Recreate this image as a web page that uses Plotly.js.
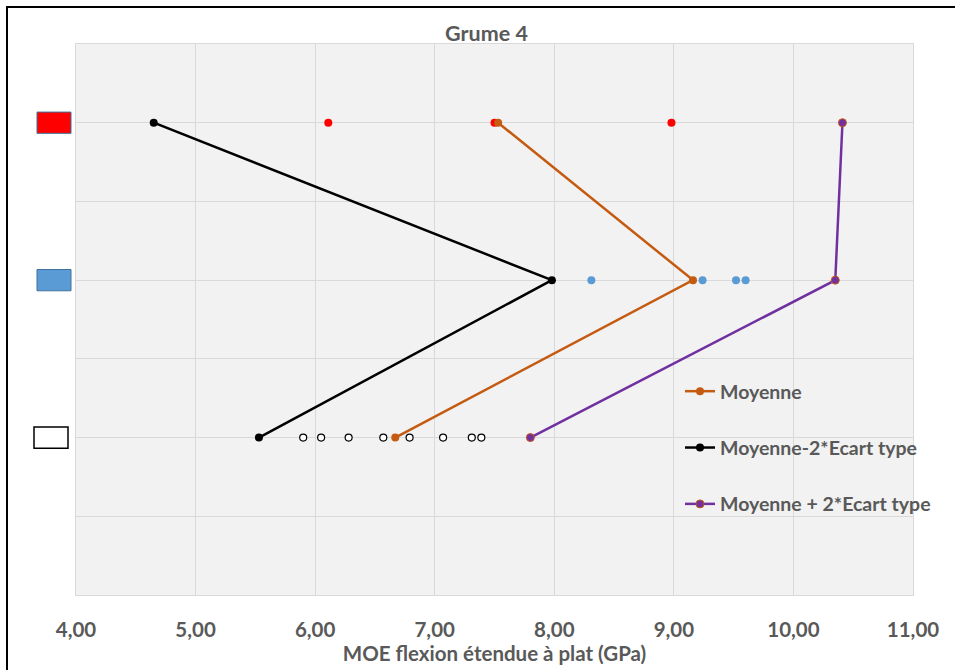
<!DOCTYPE html>
<html>
<head>
<meta charset="utf-8">
<script src="https://cdn.plot.ly/plotly-3.0.1.min.js"></script>
<style>
  html, body { margin: 0; padding: 0; background: #fff; overflow: hidden; }
  #chart { width: 955px; height: 670px; position: relative; }
  #frame { position: absolute; left: 6px; top: 6px; width: 1000px; height: 1000px; border: 2px solid #000; pointer-events: none; box-sizing: border-box; }
</style>
</head>
<body>
<div id="chart"></div>
<div id="frame"></div>
<script>
// Row levels (y positions of the three groups) and their legend-box colours
const rowLevels = [6, 4, 2];
const rowFill = ['#FF0000', '#5B9BD5', '#FFFFFF'];
const rowBorder = ['#41719C', '#41719C', '#000000'];

// Individual measurements
const redX = [6.11, 7.50, 8.98];
const blueX = [8.31, 9.24, 9.52, 9.60];
const whiteX = [5.90, 6.05, 6.28, 6.57, 6.79, 7.07, 7.31, 7.39];

// Summary series (order: red row, blue row, white row)
const moyenne = [7.53, 9.16, 6.67];
const moyMoins2 = [4.65, 7.98, 5.53];
const moyPlus2 = [10.41, 10.35, 7.80];

const seriesNames = ['Moyenne', 'Moyenne-2*Ecart type', 'Moyenne + 2*Ecart type'];

const xTicks = [4, 5, 6, 7, 8, 9, 10, 11];

const FONT = 'Lato, "Open Sans", sans-serif';
const GREY = '#595959';

const traces = [
  { x: redX, y: redX.map(() => rowLevels[0]), mode: 'markers', type: 'scatter', showlegend: false,
    marker: { color: '#FF0000', size: 8 } },
  { x: blueX, y: blueX.map(() => rowLevels[1]), mode: 'markers', type: 'scatter', showlegend: false,
    marker: { color: '#5B9BD5', size: 8 } },
  { x: whiteX, y: whiteX.map(() => rowLevels[2]), mode: 'markers', type: 'scatter', showlegend: false,
    marker: { color: '#FFFFFF', size: 7, line: { color: '#000000', width: 1.2 } } },
  { x: moyenne, y: rowLevels, mode: 'lines+markers', type: 'scatter', name: seriesNames[0], legendgroup: 'a',
    line: { color: '#C55A11', width: 2.5 }, marker: { color: '#C55A11', size: 8 } },
  { x: moyMoins2, y: rowLevels, mode: 'lines+markers', type: 'scatter', name: seriesNames[1], legendgroup: 'b',
    line: { color: '#000000', width: 2.5 }, marker: { color: '#000000', size: 8 } },
  { x: moyPlus2, y: rowLevels, mode: 'lines+markers', type: 'scatter', name: seriesNames[2], legendgroup: 'c',
    line: { color: '#7030A0', width: 2.5 }, marker: { color: '#7030A0', size: 8, line: { color: '#C55A11', width: 1 } } }
];

const L = 76, R = 913, PW = R - L;
const shapes = rowLevels.map((lv, i) => {
  const x0px = i === 2 ? 34 : 37, x1px = i === 2 ? 68 : 71;
  return {
    type: 'rect', xref: 'paper', yref: 'y',
    x0: (x0px - L) / PW, x1: (x1px - L) / PW,
    y0: lv - 0.135, y1: lv + 0.135,
    fillcolor: rowFill[i], line: { color: rowBorder[i], width: i === 2 ? 1.5 : 1 }
  };
});

const layout = {
  width: 955, height: 670,
  margin: { l: 76, r: 42, t: 44, b: 75 },
  paper_bgcolor: '#FFFFFF',
  plot_bgcolor: '#F2F2F2',
  separators: ', ',
  font: { family: FONT, color: GREY },
  title: { text: '<b>Grume 4</b>', x: (486.5 - L) / PW, xref: 'paper', xanchor: 'center', y: 1 - 33 / 670, yanchor: 'middle',
    font: { family: FONT, size: 21.5, color: GREY } },
  xaxis: {
    range: [4, 11], tickvals: xTicks, tickformat: '.2f', showgrid: true, gridcolor: '#D9D9D9', gridwidth: 1,
    zeroline: false, showline: true, linecolor: '#D9D9D9', linewidth: 1, mirror: true,
    ticks: '', ticklabelstandoff: 16,
    tickfont: { family: FONT, size: 20.5, color: GREY, weight: 'bold' },
    title: { text: '<b>MOE flexion étendue à plat (GPa)</b>', standoff: 2, font: { family: FONT, size: 20.5, color: GREY } }
  },
  yaxis: {
    range: [0, 7], dtick: 1, tick0: 0, showticklabels: false, showgrid: true, gridcolor: '#D9D9D9', gridwidth: 1,
    zeroline: false, showline: true, linecolor: '#D9D9D9', linewidth: 1, mirror: true, ticks: ''
  },
  shapes: shapes,
  showlegend: true,
  legend: {
    x: (680 - L) / PW, xanchor: 'left', y: (595 - 372) / 551, yanchor: 'top',
    bgcolor: 'rgba(0,0,0,0)', borderwidth: 0, tracegroupgap: 28, traceorder: 'grouped',
    font: { family: FONT, size: 19.5, color: GREY, weight: 'bold' }
  }
};

Plotly.newPlot('chart', traces, layout, { displayModeBar: false, staticPlot: true });
</script>
</body>
</html>
